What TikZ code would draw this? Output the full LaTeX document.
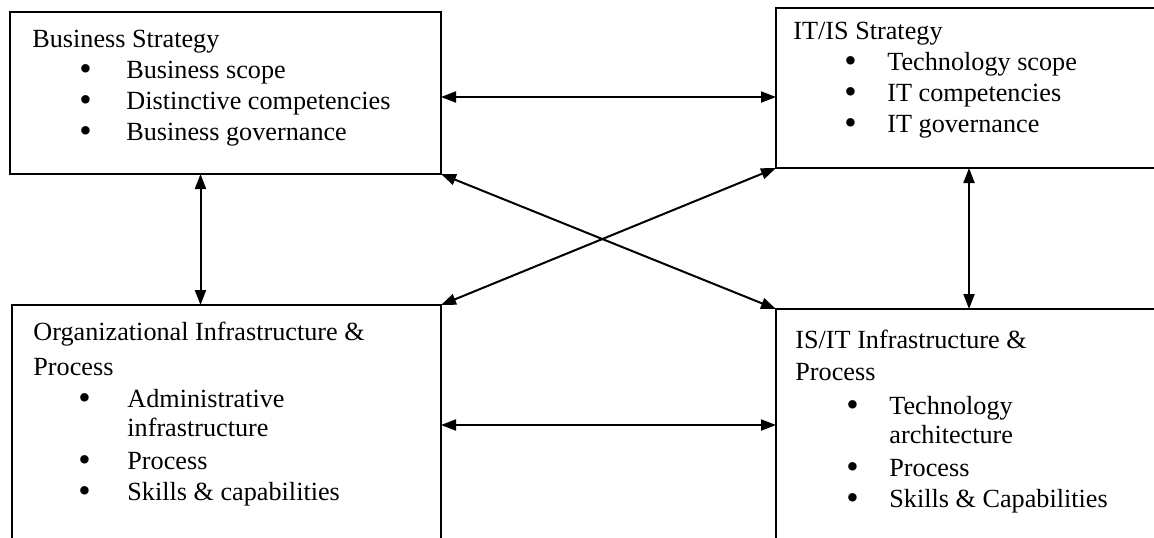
\documentclass[tikz,border=0pt]{standalone}
\usepackage{fontspec}
\usepackage{graphicx}
\setmainfont{Liberation Serif}
\usetikzlibrary{arrows.meta}
\newcommand{\dotmark}{\raisebox{-0.08em}{\scalebox{1.35}{\textbullet}}}
\newcommand{\bul}[2][23pt]{\hspace*{#1}\makebox[\dimexpr47pt-#1\relax][l]{\dotmark}#2}
\newcommand{\wrapline}[1]{\hspace*{47pt}#1}
\begin{document}
\begin{tikzpicture}[x=0.5pt,y=-0.5pt,
  every node/.style={font=\fontsize{13.1pt}{14.5pt}\selectfont},
  box/.style={draw,line width=1pt,inner sep=0pt,outer sep=0pt,anchor=north west},
  txt/.style={align=left,inner sep=0pt,anchor=north west},
  link/.style={line width=1pt,{Triangle[length=7.5pt,width=5.5pt]}-{Triangle[length=7.5pt,width=5.5pt]}}]
\useasboundingbox (0,0) rectangle (1154,537);
\clip (0,0) rectangle (1154,537);
% the four boxes
\node[box,minimum width=215.5pt,minimum height=81pt] (bizstrat) at (10,12) {};
\node[box,minimum width=200pt,minimum height=80pt] (itstrat) at (776,8) {};
\node[box,minimum width=214.5pt,minimum height=130pt] (orginfra) at (12,305) {};
\node[box,minimum width=200pt,minimum height=130pt] (itinfra) at (776,309) {};
% texts
\node[txt] (bizstrattxt) at ([xshift=11pt,yshift=-9pt]bizstrat.north west) {Business Strategy\\[1pt]
  \bul[23.5pt]{Business scope}\\[1pt]
  \bul[23.5pt]{Distinctive competencies}\\[1pt]
  \bul[23.5pt]{Business governance}};
\node[txt] (itstrattxt) at ([xshift=8.5pt,yshift=-7pt]itstrat.north west) {IT/IS Strategy\\[1pt]
  \bul[25.5pt]{Technology scope}\\[1pt]
  \bul[25.5pt]{IT competencies}\\[1pt]
  \bul[25.5pt]{IT governance}};
\node[txt] (orginfratxt) at ([xshift=10.5pt,yshift=-8.5pt]orginfra.north west) {Organizational Infrastructure \&\\[3pt]
  Process\\[1.5pt]
  \bul[22.5pt]{Administrative}\\
  \wrapline{infrastructure}\\[2pt]
  \bul[22.5pt]{Process}\\[1pt]
  \bul[22.5pt]{Skills \& capabilities}};
\node[txt] (itinfratxt) at ([xshift=9.5pt,yshift=-10.5pt]itinfra.north west) {IS/IT Infrastructure \&\\[1.5pt]
  Process\\[2.5pt]
  \bul[25.5pt]{Technology}\\
  \wrapline{architecture}\\[2pt]
  \bul[25.5pt]{Process}\\[1pt]
  \bul[25.5pt]{Skills \& Capabilities}};
% connectors
\draw[link] ([yshift=-2pt]bizstrat.east) -- ([yshift=-2pt]bizstrat.east -| itstrat.west);
\draw[link] ([yshift=5pt]orginfra.east) -- ([yshift=5pt]orginfra.east -| itinfra.west);
\draw[link] ([xshift=-12.5pt]bizstrat.south) -- ([xshift=-12.5pt]bizstrat.south |- orginfra.north);
\draw[link] ([xshift=-3.5pt]itstrat.south) -- ([xshift=-3.5pt]itstrat.south |- itinfra.north);
\draw[link] (bizstrat.south east) -- (itinfra.north west);
\draw[link] (itstrat.south west) -- (orginfra.north east);
\end{tikzpicture}
\end{document}
